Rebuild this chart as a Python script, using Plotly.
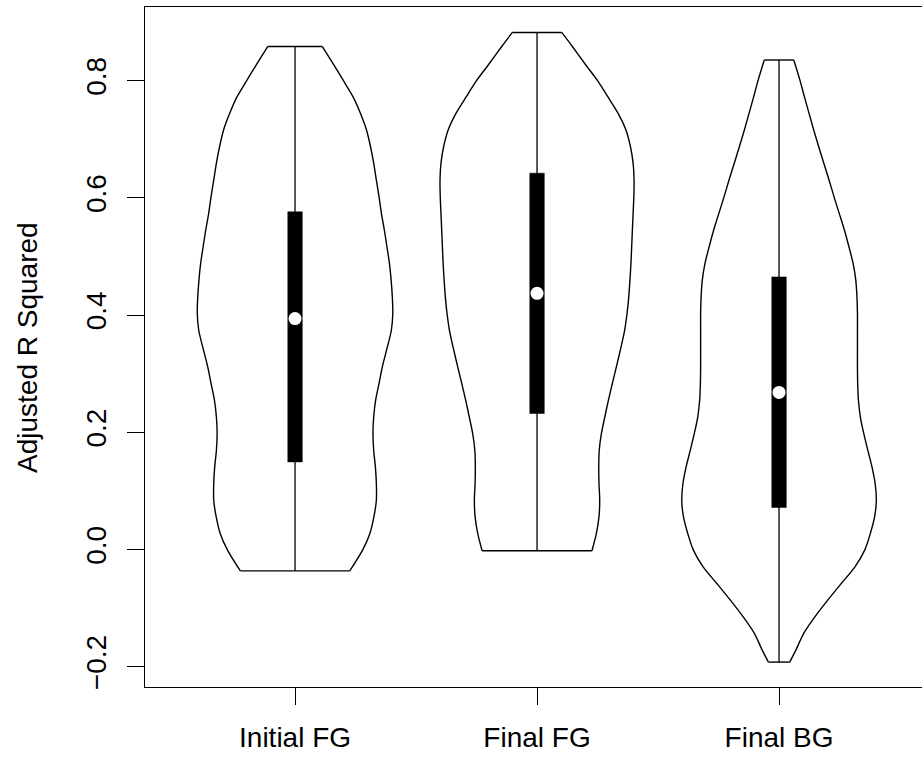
import plotly.graph_objects as go

# ---------------- data ----------------
categories = ["Initial FG", "Final FG", "Final BG"]
positions = [1, 2, 3]
y_ticks = [-0.2, 0.0, 0.2, 0.4, 0.6, 0.8]

# violin outlines: value levels (ascending) and density half-widths
initial_fg_y = [-0.0365, -0.001, 0.027, 0.056, 0.084, 0.113, 0.141, 0.169, 0.198, 0.226,
                0.255, 0.283, 0.312, 0.343, 0.374, 0.403, 0.431, 0.460, 0.488, 0.516,
                0.545, 0.573, 0.602, 0.630, 0.659, 0.687, 0.716, 0.744, 0.772, 0.801,
                0.829, 0.858]
initial_fg_w = [0.226, 0.279, 0.309, 0.326, 0.336, 0.336, 0.332, 0.325, 0.322, 0.325,
                0.333, 0.347, 0.361, 0.380, 0.398, 0.404, 0.402, 0.397, 0.390, 0.380,
                0.369, 0.357, 0.347, 0.336, 0.325, 0.312, 0.295, 0.270, 0.240, 0.198,
                0.157, 0.113]

final_fg_y = [-0.002, 0.027, 0.056, 0.084, 0.113, 0.141, 0.169, 0.198, 0.226, 0.255,
              0.283, 0.312, 0.340, 0.374, 0.403, 0.431, 0.460, 0.488, 0.516, 0.545,
              0.573, 0.602, 0.630, 0.659, 0.687, 0.716, 0.744, 0.772, 0.801, 0.829,
              0.858, 0.882]
final_fg_w = [0.227, 0.245, 0.256, 0.259, 0.256, 0.255, 0.257, 0.266, 0.280, 0.295,
              0.311, 0.328, 0.344, 0.362, 0.372, 0.379, 0.384, 0.388, 0.391, 0.394,
              0.397, 0.400, 0.401, 0.397, 0.386, 0.367, 0.335, 0.293, 0.248, 0.197,
              0.146, 0.102]

final_bg_y = [-0.192, -0.172, -0.143, -0.115, -0.086, -0.058, -0.030, -0.001, 0.027, 0.056,
              0.084, 0.113, 0.141, 0.169, 0.198, 0.226, 0.255, 0.283, 0.312, 0.340,
              0.374, 0.403, 0.431, 0.460, 0.488, 0.516, 0.545, 0.573, 0.602, 0.630,
              0.659, 0.687, 0.716, 0.744, 0.772, 0.801, 0.835]
final_bg_w = [0.044, 0.069, 0.102, 0.148, 0.202, 0.257, 0.313, 0.354, 0.377, 0.395,
              0.402, 0.397, 0.384, 0.367, 0.350, 0.336, 0.328, 0.325, 0.324, 0.324,
              0.324, 0.324, 0.322, 0.317, 0.306, 0.289, 0.270, 0.249, 0.227, 0.207,
              0.185, 0.164, 0.143, 0.124, 0.105, 0.086, 0.061]

# box statistics: lower whisker, q1, median, q3, upper whisker
whisker_lo = [-0.0365, -0.002, -0.192]
q1 = [0.1495, 0.232, 0.0717]
median = [0.394, 0.437, 0.268]
q3 = [0.576, 0.642, 0.465]
whisker_hi = [0.858, 0.882, 0.835]

outlines_y = [initial_fg_y, final_fg_y, final_bg_y]
outlines_w = [initial_fg_w, final_fg_w, final_bg_w]

# ---------------- figure ----------------
FONT = "Liberation Sans, Arial, Helvetica, sans-serif"
BOX_HALF = 0.03
LW = 1.4
fig = go.Figure()


def line_trace(x, y, shape="linear", width=LW):
    return go.Scatter(x=x, y=y, mode="lines", line=dict(color="black", width=width, shape=shape,
                                                         smoothing=0.8 if shape == "spline" else None),
                      hoverinfo="skip", showlegend=False)


for i, pos in enumerate(positions):
    ys = outlines_y[i]
    ws = outlines_w[i]
    left = [pos - w for w in ws]
    right = [pos + w for w in ws]
    # white body
    fig.add_trace(go.Scatter(x=left + right[::-1] + [left[0]], y=list(ys) + list(ys)[::-1] + [ys[0]],
                             mode="lines", fill="toself", fillcolor="white",
                             line=dict(width=0, color="rgba(0,0,0,0)"),
                             hoverinfo="skip", showlegend=False))
    # outline: smooth sides, flat ends
    fig.add_trace(line_trace(left, ys, "spline"))
    fig.add_trace(line_trace(right, ys, "spline"))
    fig.add_trace(line_trace([left[-1], right[-1]], [ys[-1], ys[-1]]))
    fig.add_trace(line_trace([left[0], right[0]], [ys[0], ys[0]]))
    # whisker
    fig.add_trace(line_trace([pos, pos], [whisker_lo[i], whisker_hi[i]], width=1.3))
    # box
    fig.add_trace(go.Scatter(x=[pos - BOX_HALF, pos + BOX_HALF, pos + BOX_HALF, pos - BOX_HALF, pos - BOX_HALF],
                             y=[q1[i], q1[i], q3[i], q3[i], q1[i]], mode="lines", fill="toself",
                             fillcolor="black", line=dict(color="black", width=0.5),
                             hoverinfo="skip", showlegend=False))
    # median
    fig.add_trace(go.Scatter(x=[pos], y=[median[i]], mode="markers",
                             marker=dict(color="white", size=13, line=dict(width=0)),
                             hoverinfo="skip", showlegend=False))

fig.update_layout(
    width=922, height=757,
    margin=dict(l=145, r=0, t=7, b=70),
    paper_bgcolor="white", plot_bgcolor="white",
    font=dict(family=FONT, size=28, color="black"),
    showlegend=False,
)
fig.update_xaxes(
    range=[0.38, 0.38 + 777 / 242], tickvals=positions, ticktext=categories,
    showgrid=False, zeroline=False, showline=True, linecolor="black", linewidth=LW,
    mirror=True, ticks="outside", ticklen=17, tickwidth=1.3, tickcolor="black",
    ticklabelstandoff=8, tickfont=dict(size=28), automargin=False,
)
fig.update_yaxes(
    range=[-0.2345, 0.9254], tickvals=y_ticks, tickformat=".1f",
    showgrid=False, zeroline=False, showline=True, linecolor="black", linewidth=LW,
    ticks="outside", ticklen=17, tickwidth=1.3, tickcolor="black",
    tickangle=-90, tickfont=dict(size=28), ticklabelstandoff=10, automargin=False,
)
fig.add_annotation(text="Adjusted R Squared", textangle=-90, xref="paper", yref="paper",
                   x=-118 / 777, y=0.5, xanchor="center", yanchor="middle",
                   showarrow=False, font=dict(size=28, family=FONT))

fig.write_html("out.html", config={"displayModeBar": False},
               post_script="document.body.style.margin='0';document.body.style.overflow='hidden';")
